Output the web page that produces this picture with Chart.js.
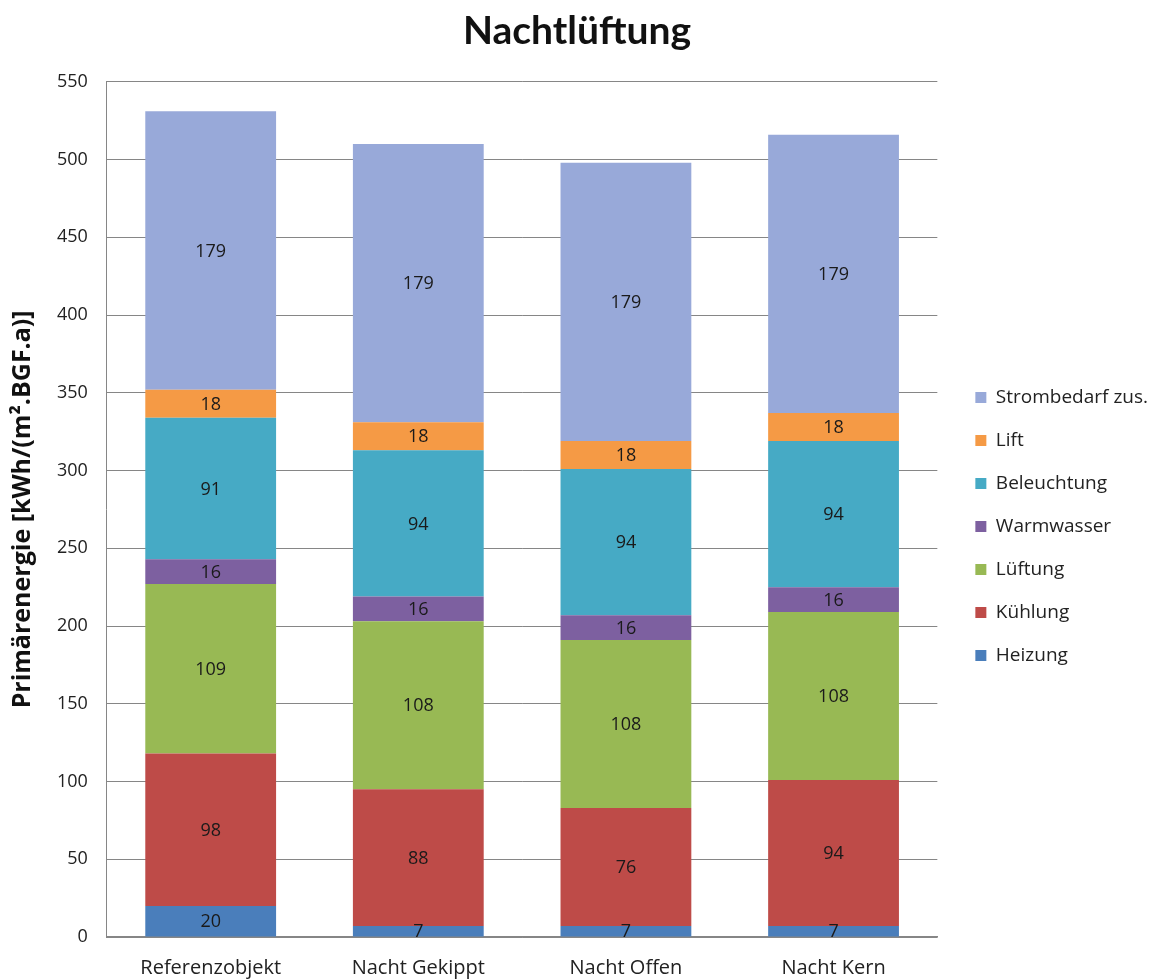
<!DOCTYPE html>
<html>
<head>
<meta charset="utf-8">
<script src="https://cdn.jsdelivr.net/npm/chart.js@4/dist/chart.umd.min.js"></script>
<style>
  body { margin: 0; background: #fff; }
  #wrap { width: 1158px; height: 979px; }
</style>
</head>
<body>
<div id="wrap"><canvas id="energyChart" width="1158" height="979"></canvas></div>
<script>
// Data for the chart
const categories = ['Referenzobjekt', 'Nacht Gekippt', 'Nacht Offen', 'Nacht Kern'];
const heizung = [20, 7, 7, 7];
const kuehlung = [98, 88, 76, 94];
const lueftung = [109, 108, 108, 108];
const warmwasser = [16, 16, 16, 16];
const beleuchtung = [91, 94, 94, 94];
const lift = [18, 18, 18, 18];
const strombedarf = [179, 179, 179, 179];
const yTicks = [0, 50, 100, 150, 200, 250, 300, 350, 400, 450, 500, 550];

const fontFamily = '"Open Sans", sans-serif';

// draws the value in the middle of each bar segment
const segmentLabels = {
    id: 'segmentLabels',
    afterDatasetsDraw(chart) {
        const ctx = chart.ctx;
        ctx.save();
        ctx.font = '18px ' + fontFamily;
        ctx.fillStyle = '#1a1a1a';
        ctx.textAlign = 'center';
        ctx.textBaseline = 'middle';
        chart.data.datasets.forEach((ds, i) => {
            const meta = chart.getDatasetMeta(i);
            if (meta.hidden) return;
            meta.data.forEach((bar, j) => {
                ctx.fillText(ds.data[j], bar.x, (bar.y + bar.base) / 2 + 1);
            });
        });
        ctx.restore();
    }
};

// give the legend a bit more room (and nudge it right) so the plot ends where the original does
const legendWidener = {
    id: 'legendWidener',
    beforeLayout(chart) {
        const lg = chart.legend;
        if (lg && !lg._widened) {
            const fit = lg.fit;
            const draw = lg.draw;
            lg.fit = function () { fit.call(this); this.width += 2; };
            lg.draw = function (area) {
                this.ctx.save();
                this.ctx.translate(14, 0);
                draw.call(this, area);
                this.ctx.restore();
            };
            lg._widened = true;
        }
    }
};

const makeSet = (label, data, color) => ({
    label: label,
    data: data,
    backgroundColor: color,
    borderWidth: 0,
    categoryPercentage: 1,
    barPercentage: 0.63
});

const config = {
    type: 'bar',
    data: {
        labels: categories,
        datasets: [
            makeSet('Heizung', heizung, '#4a7ebb'),
            makeSet('Kühlung', kuehlung, '#be4b48'),
            makeSet('Lüftung', lueftung, '#98b954'),
            makeSet('Warmwasser', warmwasser, '#7d60a0'),
            makeSet('Beleuchtung', beleuchtung, '#46aac5'),
            makeSet('Lift', lift, '#f59a45'),
            makeSet('Strombedarf zus.', strombedarf, '#98a9d9')
        ]
    },
    options: {
        responsive: false,
        animation: false,
        layout: { padding: { left: 8, right: 12, top: 8, bottom: -20 } },
        plugins: {
            legend: {
                position: 'right',
                reverse: true,
                title: {
                    display: true,
                    text: ' ',
                    font: { size: 10 },
                    padding: { top: 34, bottom: 0 }
                },
                labels: {
                    font: { family: fontFamily, size: 19 },
                    color: '#222',
                    boxWidth: 11,
                    boxHeight: 11,
                    padding: 24
                }
            },
            title: {
                display: true,
                text: 'Nachtlüftung',
                color: '#111',
                font: { family: 'Lato, sans-serif', size: 39, weight: 'bold' },
                padding: { top: 0, bottom: 27 }
            },
            tooltip: { enabled: false }
        },
        scales: {
            x: {
                stacked: true,
                grid: { display: false, drawTicks: false },
                border: { color: '#868686', width: 1.5 },
                ticks: {
                    color: '#222',
                    font: { family: fontFamily, size: 20 },
                    padding: 19
                }
            },
            y: {
                stacked: true,
                min: 0,
                max: 550,
                afterBuildTicks: (axis) => { axis.ticks = yTicks.map(v => ({ value: v })); },
                grid: { color: '#868686', drawTicks: false },
                border: { color: '#868686' },
                ticks: {
                    color: '#222',
                    font: { family: fontFamily, size: 18 },
                    padding: 19
                },
                title: {
                    display: true,
                    text: 'Primärenergie [kWh/(m².BGF.a)]',
                    color: '#111',
                    font: { family: fontFamily, size: 25, weight: 'bold' },
                    padding: { top: 0, bottom: 0 }
                }
            }
        }
    },
    plugins: [segmentLabels, legendWidener]
};

// Render the chart
const ctx = document.getElementById('energyChart').getContext('2d');
const energyChart = new Chart(ctx, config);
</script>
</body>
</html>
